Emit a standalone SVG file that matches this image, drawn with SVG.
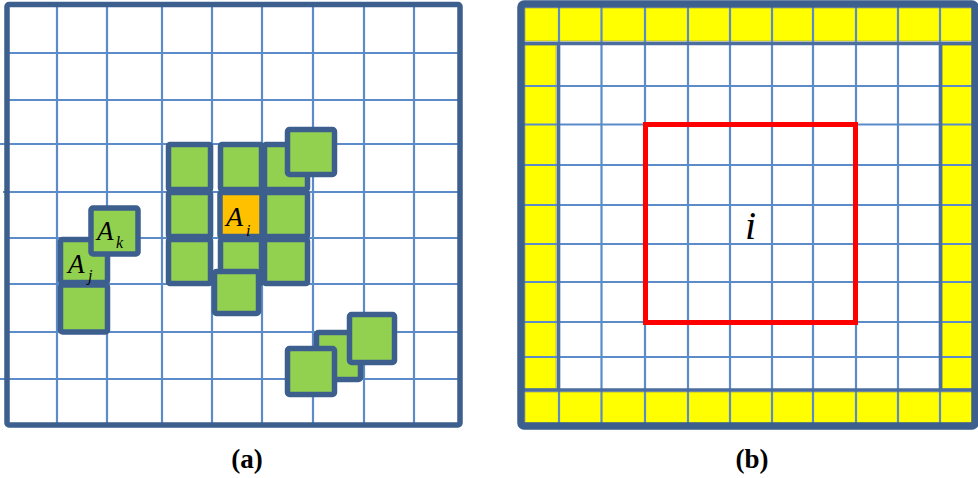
<svg xmlns="http://www.w3.org/2000/svg" width="978" height="478" viewBox="0 0 978 478">
<style>
.grid{stroke:#5B8BC9;stroke-width:2.2;fill:none}
.frame{fill:none;stroke:#3C5F8E}
.cell{fill:#92D050;stroke:#3C5F8E;stroke-width:5.5}
.ci{fill:#FFC000;stroke:#3C5F8E;stroke-width:5.5}
.yel{fill:#FFFF00;stroke:#A8A840;stroke-width:0.8}
.lbl{font-style:italic;fill:#000}
.cap{font-weight:bold;font-size:27px;fill:#000;text-anchor:middle}
</style>
<rect width="978" height="478" fill="#fff"/>
<g id="panel-a">
<rect x="7" y="4.5" width="453" height="420.5" fill="#fff"/>
<g class="grid">
<path d="M57 4.5V425M107 4.5V425M162 4.5V425M212 4.5V425M262 4.5V425M313 4.5V425M364 4.5V425M414 4.5V425"/>
<path d="M7 53H460M7 100H460M0 144H460M3 192H460M7 238H460M7 284H460M7 332H460M0 379H460"/>
</g>
<rect class="frame" x="7" y="4.5" width="453" height="420.5" stroke-width="5.5" rx="2"/>
</g>
<g id="cluster-i">
<rect id="c-l1" class="cell" x="168.5" y="144.5" width="42" height="45" rx="1.5"/>
<rect id="c-m1" class="cell" x="220.5" y="144.5" width="41" height="45" rx="1.5"/>
<rect id="c-r1" class="cell" x="264.5" y="144.5" width="43" height="45" rx="1.5"/>
<rect id="c-l2" class="cell" x="168.5" y="192.5" width="42" height="44" rx="1.5"/>
<rect id="c-r2" class="cell" x="264.5" y="192.5" width="43" height="44" rx="1.5"/>
<rect id="c-l3" class="cell" x="168.5" y="239.5" width="42" height="44" rx="1.5"/>
<rect id="c-m3" class="cell" x="220.5" y="239.5" width="41" height="44" rx="1.5"/>
<rect id="c-r3" class="cell" x="264.5" y="239.5" width="43" height="44" rx="1.5"/>
<rect id="c-ai" class="ci" x="220" y="192.5" width="42" height="44" rx="1.5"/>
<rect id="c-top" class="cell" x="287.5" y="129.5" width="47" height="45" rx="2"/>
<rect id="c-bot" class="cell" x="214.5" y="271.5" width="44" height="42" rx="2"/>
<text class="lbl" font-family="Liberation Serif, Times New Roman, serif" x="226" y="226" font-size="28">A</text>
<text class="lbl" font-family="Liberation Serif, Times New Roman, serif" x="246" y="236" font-size="16">i</text>
</g>
<g id="cluster-jk">
<rect id="c-aj" class="cell" x="60.5" y="239.5" width="47" height="43" rx="2"/>
<rect id="c-aj2" class="cell" x="60.5" y="285" width="47" height="47" rx="2"/>
<rect id="c-ak" class="cell" x="91" y="208" width="47" height="46" rx="2"/>
<text class="lbl" font-family="Liberation Serif, Times New Roman, serif" x="97" y="240" font-size="27">A</text>
<text class="lbl" font-family="Liberation Serif, Times New Roman, serif" x="116" y="248" font-size="16">k</text>
<text class="lbl" font-family="Liberation Serif, Times New Roman, serif" x="68" y="273" font-size="27">A</text>
<text class="lbl" font-family="Liberation Serif, Times New Roman, serif" x="88" y="281" font-size="16">j</text>
</g>
<g id="cluster-br">
<rect class="cell" x="316.5" y="332.5" width="44" height="47" rx="2"/>
<rect class="cell" x="287.5" y="348.5" width="47" height="46" rx="2"/>
<rect class="cell" x="349.5" y="314.5" width="45" height="48" rx="2"/>
</g>
<g id="panel-b">
<rect x="521" y="4" width="454" height="422" fill="#fff"/>
<g id="border-cells">
<rect class="yel" x="525" y="8" width="448" height="33"/>
<rect class="yel" x="525" y="392" width="448" height="31"/>
<rect class="yel" x="525" y="45" width="31" height="344"/>
<rect class="yel" x="942" y="45" width="31" height="344"/>
</g>
<g class="grid">
<path d="M559 4V426M601.5 4V426M645 4V426M688 4V426M730 4V426M772 4V426M813 4V426M856 4V426M898 4V426M940 4V426"/>
<path d="M521 86H975M521 124.5H975M521 165H975M521 205H975M521 244H975M521 282H975M521 322H975M521 357H975"/>
</g>
<path d="M521 43.5H975M521 390H975M558.5 43V390M940.5 43V390" fill="none" stroke="#4C6E9E" stroke-width="3.5"/>
<rect class="frame" x="521" y="4" width="454" height="422" stroke-width="7.5" rx="3"/>
<rect id="region-i" x="645.5" y="124.5" width="210" height="198" fill="none" stroke="#FF0000" stroke-width="5"/>
<text class="lbl" font-family="Liberation Serif, Times New Roman, serif" x="745" y="239" font-size="40">i</text>
</g>
<g id="captions" font-family="Liberation Serif, Times New Roman, serif">
<text class="cap" x="247" y="468">(a)</text>
<text class="cap" x="752" y="468">(b)</text>
</g>
</svg>
